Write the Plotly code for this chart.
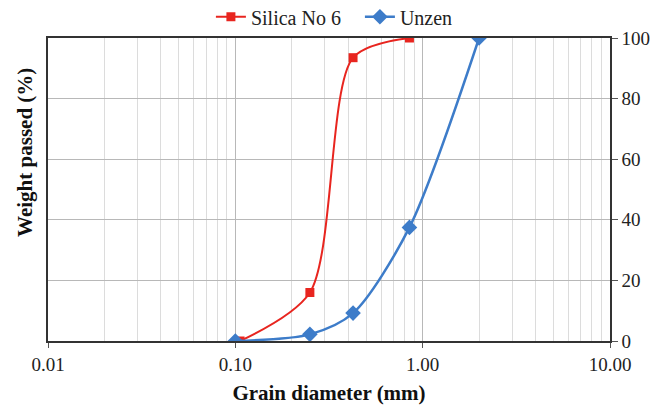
import plotly.graph_objects as go

# Grain-size distribution data
silica_d = [0.106, 0.25, 0.425, 0.85]
silica_pass = [0, 16, 93.5, 100]
unzen_d = [0.1, 0.25, 0.425, 0.85, 2.0]
unzen_pass = [0, 2.2, 9.2, 37.5, 100]

x_tickvals = [0.01, 0.1, 1, 10]
x_ticktext = ["0.01", "0.10", "1.00", "10.00"]
y_tickvals = [0, 20, 40, 60, 80, 100]

minor_vals = [m * 10 ** e for e in (-2, -1, 0) for m in range(2, 10)]

FONT = "Liberation Serif, Times New Roman, serif"
RED = "#e8251f"
BLUE = "#3d7cc9"

fig = go.Figure()
fig.add_trace(go.Scatter(
    x=silica_d, y=silica_pass, name="Silica No 6",
    mode="lines+markers",
    line=dict(color=RED, width=2, shape="spline", smoothing=0.8),
    marker=dict(symbol="square", size=9, color=RED),
))
fig.add_trace(go.Scatter(
    x=unzen_d, y=unzen_pass, name="Unzen",
    mode="lines+markers",
    line=dict(color=BLUE, width=2.5, shape="spline", smoothing=0.8),
    marker=dict(symbol="diamond", size=12, color=BLUE),
))

fig.update_layout(
    width=672, height=408,
    margin=dict(l=48, r=62, t=38, b=67, autoexpand=False),
    paper_bgcolor="white", plot_bgcolor="white",
    font=dict(family=FONT, size=19, color="#222"),
    showlegend=True,
    legend=dict(orientation="h", x=0.555, xanchor="center", y=1.07, yanchor="middle",
                font=dict(family=FONT, size=20, color="#222"),
                itemwidth=30, entrywidth=104, tracegroupgap=0, bgcolor="rgba(0,0,0,0)"),
    xaxis=dict(
        type="log", range=[-2, 1],
        tickmode="array", tickvals=x_tickvals, ticktext=x_ticktext,
        showgrid=True, gridcolor="#b8b8b8", gridwidth=1,
        ticks="outside", ticklen=5, tickcolor="#555",
        showline=True, linecolor="#333", linewidth=1.5, mirror=True,
        tickfont=dict(family=FONT, size=19, color="#222"),
        minor=dict(tickmode="array", tickvals=minor_vals, showgrid=True,
                   gridcolor="#dcdcdc", gridwidth=1, ticks=""),
        title=dict(text="<b>Grain diameter (mm)</b>", font=dict(family=FONT, size=21, color="#111"),
                   standoff=12),
        zeroline=False,
    ),
    yaxis=dict(
        side="right", range=[0, 100],
        tickmode="array", tickvals=y_tickvals,
        showgrid=True, gridcolor="#b8b8b8", gridwidth=1,
        ticks="outside", ticklen=6, tickcolor="#555",
        showline=True, linecolor="#333", linewidth=1.5, mirror=True,
        tickfont=dict(family=FONT, size=19, color="#222"),
        zeroline=False,
    ),
)

fig.add_annotation(
    text="<b>Weight passed (%)</b>", textangle=-90,
    xref="paper", yref="paper", x=-0.041, y=0.624, xanchor="center", yanchor="middle",
    showarrow=False, font=dict(family=FONT, size=21, color="#111"),
)

fig.write_html("out.html")
